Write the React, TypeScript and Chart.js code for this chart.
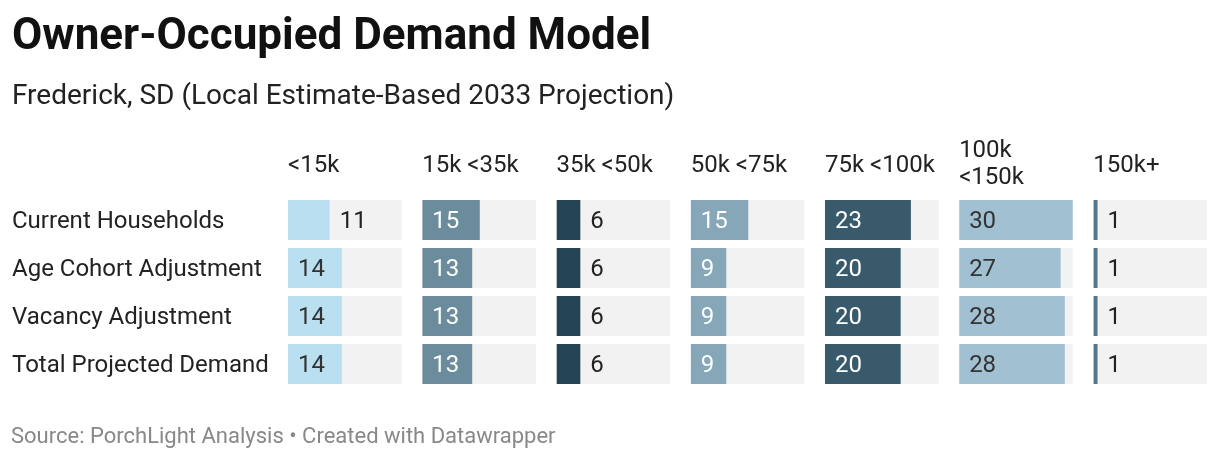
import React, { useEffect, useRef } from "react";
import { Chart, registerables } from "chart.js";

Chart.register(...registerables);

const chartTitle = "Owner-Occupied Demand Model";
const chartSubtitle = "Frederick, SD (Local Estimate-Based 2033 Projection)";
const sourceNote = "Source: PorchLight Analysis • Created with Datawrapper";

const rowLabels = [
  "Current Households",
  "Age Cohort Adjustment",
  "Vacancy Adjustment",
  "Total Projected Demand",
];

const columnHeaders = [
  ["<15k"],
  ["15k <35k"],
  ["35k <50k"],
  ["50k <75k"],
  ["75k <100k"],
  ["100k", "<150k"],
  ["150k+"],
];

const under15k = [11, 14.2, 14.2, 14.2];
const from15kTo35k = [15.2, 13.2, 13.2, 13.2];
const from35kTo50k = [6.3, 6.3, 6.3, 6.3];
const from50kTo75k = [15.2, 9.4, 9.4, 9.4];
const from75kTo100k = [22.7, 20, 20, 20];
const from100kTo150k = [30, 26.8, 27.9, 27.9];
const over150k = [1.1, 1.1, 1.1, 1.1];

const columnValues = [
  under15k,
  from15kTo35k,
  from35kTo50k,
  from50kTo75k,
  from75kTo100k,
  from100kTo150k,
  over150k,
];

const barColors = ["#b9dff0", "#6b8c9c", "#224455", "#85a7b8", "#385a6a", "#a1c1d3", "#52788a"];
const insideLabelColors = ["#333333", "#ffffff", "#ffffff", "#ffffff", "#ffffff", "#333333", "#ffffff"];
const trackColor = "#f2f2f2";

const FONT = "Roboto";
const COL_W = 113.7;
const GAP = 20.6;
const LABEL_PAD = 10;
const HEADER_LINE = 27;
const TEXT_NUDGE = 1.5;

const valueLabelPlugin = {
  id: "valueLabels",
  afterDatasetsDraw(chart: any) {
    const ctx = chart.ctx;
    ctx.save();
    ctx.font = `24px ${FONT}`;
    ctx.textBaseline = "middle";
    ctx.textAlign = "left";
    chart.data.datasets.forEach((ds: any, di: number) => {
      if (ds.kind !== "value") return;
      const meta = chart.getDatasetMeta(di);
      meta.data.forEach((bar: any, j: number) => {
        const v = ds.data[j];
        const text = String(Math.round(v));
        const w = ctx.measureText(text).width;
        const { x, base, y } = bar.getProps(["x", "base", "y"], true);
        const barW = x - base;
        if (barW >= w + 2 * LABEL_PAD) {
          ctx.fillStyle = ds.insideColor;
          ctx.fillText(text, base + LABEL_PAD, y + TEXT_NUDGE);
        } else {
          ctx.fillStyle = "#222222";
          ctx.fillText(text, x + LABEL_PAD, y + TEXT_NUDGE);
        }
      });
    });
    ctx.restore();
  },
};

const footerPlugin = {
  id: "footerNote",
  afterDraw(chart: any) {
    const ctx = chart.ctx;
    ctx.save();
    ctx.font = `22px ${FONT}`;
    ctx.fillStyle = "#888888";
    ctx.textBaseline = "middle";
    ctx.textAlign = "left";
    ctx.fillText(sourceNote, 11, chart.height - 22.5);
    ctx.restore();
  },
};

export default function App() {
  const canvasRef = useRef<HTMLCanvasElement | null>(null);

  useEffect(() => {
    if (!canvasRef.current) return;
    const allValues = columnValues.flat();
    const domainMax = Math.max(...allValues);
    const n = columnValues.length;
    const maxLines = Math.max(...columnHeaders.map((h) => h.length));

    const scales: any = {
      y: {
        type: "category",
        position: "left",
        offset: true,
        grid: { display: false, drawTicks: false },
        border: { display: false },
        ticks: {
          crossAlign: "far",
          labelOffset: TEXT_NUDGE,
          color: "#222222",
          font: { family: FONT, size: 24 },
        },
        afterFit: (scale: any) => {
          scale.width = 276;
        },
      },
    };

    const datasets: any[] = [];
    columnValues.forEach((vals, i) => {
      const last = i === n - 1;
      const id = `x${i}`;
      const lines = columnHeaders[i].length;
      const missing = (maxLines - lines) * HEADER_LINE;
      scales[id] = {
        type: "linear",
        axis: "x",
        position: "top",
        stack: "columns",
        weight: n - i,
        stackWeight: last ? COL_W : COL_W + GAP,
        min: 0,
        max: last ? domainMax : (domainMax * (COL_W + GAP)) / COL_W,
        ticks: { display: false },
        grid: { display: false, drawTicks: false },
        border: { display: false },
        title: {
          display: true,
          text: columnHeaders[i],
          align: "start",
          color: "#222222",
          font: { family: FONT, size: 24, lineHeight: `${HEADER_LINE}px` },
          padding: { top: missing > 0 ? 15 : 0, bottom: 5 + (missing > 0 ? missing - 15 : 0) },
        },
      };
      datasets.push({
        kind: "track",
        label: `track${i}`,
        data: vals.map(() => domainMax),
        xAxisID: id,
        backgroundColor: trackColor,
        order: 2,
        grouped: false,
        barPercentage: 40 / 48,
        categoryPercentage: 1,
      });
      datasets.push({
        kind: "value",
        label: columnHeaders[i].join(" "),
        data: vals,
        xAxisID: id,
        backgroundColor: barColors[i],
        insideColor: insideLabelColors[i],
        order: 1,
        grouped: false,
        barPercentage: 40 / 48,
        categoryPercentage: 1,
      });
    });

    const chart = new Chart(canvasRef.current, {
      type: "bar",
      data: { labels: rowLabels, datasets },
      options: {
        indexAxis: "y",
        animation: false,
        responsive: false,
        maintainAspectRatio: false,
        devicePixelRatio: 1,
        layout: { padding: { left: 12, right: 13, top: 0, bottom: 72 } },
        plugins: {
          legend: { display: false },
          tooltip: { enabled: false },
          title: {
            display: true,
            text: chartTitle,
            align: "start",
            color: "#111111",
            font: { family: FONT, size: 44, weight: "bold", lineHeight: 1.2 },
            padding: { top: 12, bottom: 0 },
          },
          subtitle: {
            display: true,
            text: chartSubtitle,
            align: "start",
            color: "#222222",
            font: { family: FONT, size: 28, lineHeight: 1.2 },
            padding: { top: 15, bottom: 23.6 },
          },
        },
        scales,
      },
      plugins: [valueLabelPlugin, footerPlugin],
    } as any);

    return () => chart.destroy();
  }, []);

  return (
    <div style={{ position: "fixed", left: 0, top: 0, width: 1220, height: 460, background: "#ffffff" }}>
      <canvas ref={canvasRef} width={1220} height={460} style={{ display: "block", width: 1220, height: 460 }} />
    </div>
  );
}
